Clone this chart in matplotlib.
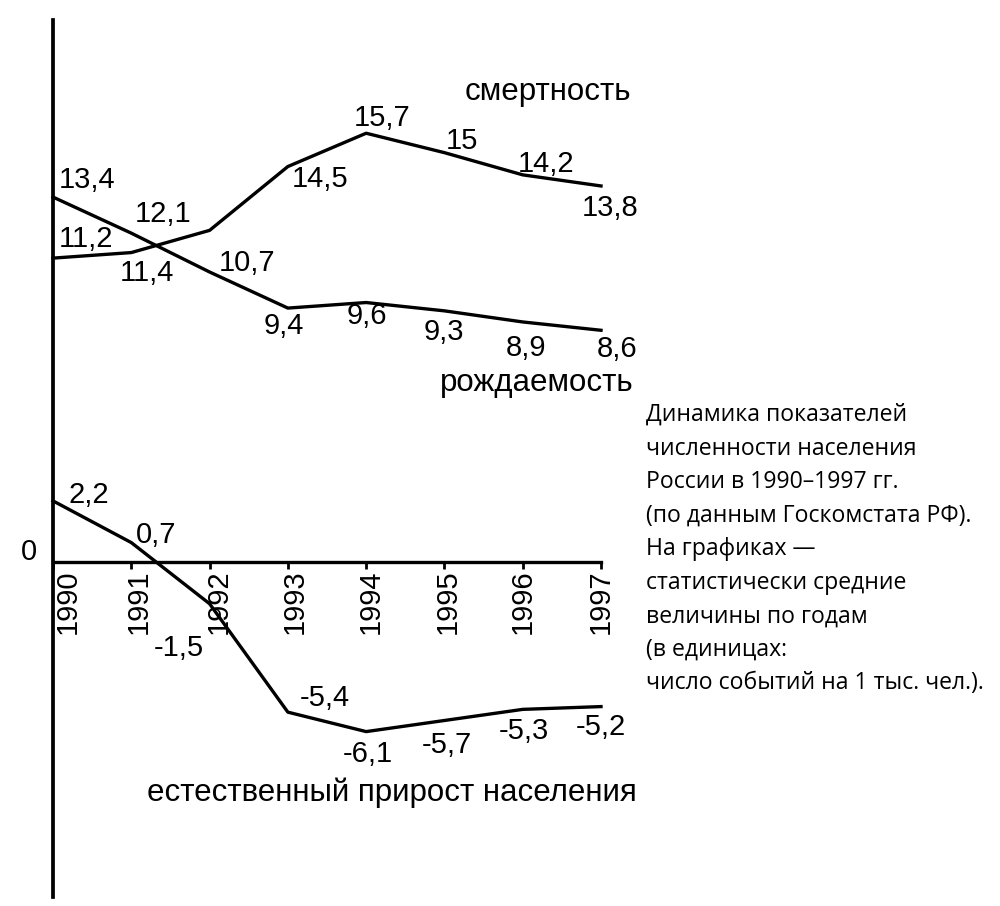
import matplotlib.pyplot as plt
from matplotlib.transforms import ScaledTranslation

plt.rcParams["font.family"] = ["Liberation Sans", "DejaVu Sans"]

years = [1990, 1991, 1992, 1993, 1994, 1995, 1996, 1997]
deaths = [11.2, 11.4, 12.2, 14.5, 15.7, 15.0, 14.2, 13.8]
births = [13.4, 12.1, 10.7, 9.4, 9.6, 9.3, 8.9, 8.6]
growth = [2.2, 0.7, -1.5, -5.4, -6.1, -5.7, -5.3, -5.2]

# label offsets in pixels from each point (None = no label in the source)
death_off = [(33, 19), (16, -20), None, (32, -12), (16, 15), (18, 12), (23, 11), (9, -22)]
birth_off = [(34, 17), (32, 19), (37, 9), (-4, -18), (1, -13), (-1, -21), (3, -26), (16, -19)]
growth_off = [(36, 6), (25, 8), (-31, -44), (37, 14), (2, -22), (2, -25), (1, -22), (0, -20)]
# year labels are not exactly centred on their ticks in the source
year_shift = [15, 7, 9, 7, 5, 3, 0, 0]

caption = (
    "Динамика показателей\n"
    "численности населения\n"
    "России в 1990–1997 гг.\n"
    "(по данным Госкомстата РФ).\n"
    "На графиках —\n"
    "статистически средние\n"
    "величины по годам\n"
    "(в единицах:\n"
    "число событий на 1 тыс. чел.)."
)

LW = 2.4
FS = 21


def fmt(v):
    return f"{v:g}".replace(".", ",")


def label_points(axis, xs, ys, offsets):
    for x, y, off in zip(xs, ys, offsets):
        if off is None:
            continue
        axis.annotate(fmt(y), (x, y), xytext=off, textcoords="offset pixels",
                      ha="center", va="center", fontsize=FS, annotation_clip=False)


fig = plt.figure(figsize=(10, 9.06), dpi=100)
ax = fig.add_axes([0.053, 9 / 906, 0.548, 877 / 906])

# lower panel: natural growth, zero line is the x axis
ax.plot(years, growth, color="black", lw=LW, clip_on=False)
label_points(ax, years, growth, growth_off)
ax.set_xlim(1990, 1997)
ax.set_ylim(-12.05, 19.5)

ax.spines["top"].set_visible(False)
ax.spines["right"].set_visible(False)
ax.spines["left"].set_linewidth(2.7)
ax.spines["bottom"].set_position(("data", 0))
ax.spines["bottom"].set_linewidth(2.4)
ax.set_yticks([])
ax.set_xticks(years)
ax.set_xticklabels([str(y) for y in years], rotation=90, fontsize=21)
ax.tick_params(axis="x", direction="out", length=5, width=2, pad=0.5)
for lab, dx in zip(ax.get_xticklabels(), year_shift):
    lab.set_transform(lab.get_transform() + ScaledTranslation(dx / 100, 0, fig.dpi_scale_trans))

ax.annotate("0", (1990, 0), xytext=(-24, 10), textcoords="offset pixels",
            ha="center", va="center", fontsize=FS, annotation_clip=False)

# upper panel: birth and death rates on their own scale
ax_up = ax.twinx()
ax_up.set_ylim(-11.82, 19.78)
for sp in ax_up.spines.values():
    sp.set_visible(False)
ax_up.set_yticks([])
ax_up.plot(years, deaths, color="black", lw=LW, clip_on=False)
ax_up.plot(years, births, color="black", lw=LW, clip_on=False)
label_points(ax_up, years, deaths, death_off)
label_points(ax_up, years, births, birth_off)

fig.text(0.548, 1 - 92 / 906, "смертность", ha="center", va="center", fontsize=22.5)
fig.text(0.537, 1 - 383 / 906, "рождаемость", ha="center", va="center", fontsize=22.5)
fig.text(0.392, 1 - 793 / 906, "естественный прирост населения",
         ha="center", va="center", fontsize=22.5)

fig.text(0.646, 1 - 403 / 906, caption, ha="left", va="top", fontsize=16.6,
         family=["Open Sans", "DejaVu Sans"], linespacing=1.53)

fig.savefig("out.png", dpi=100, facecolor="white")
